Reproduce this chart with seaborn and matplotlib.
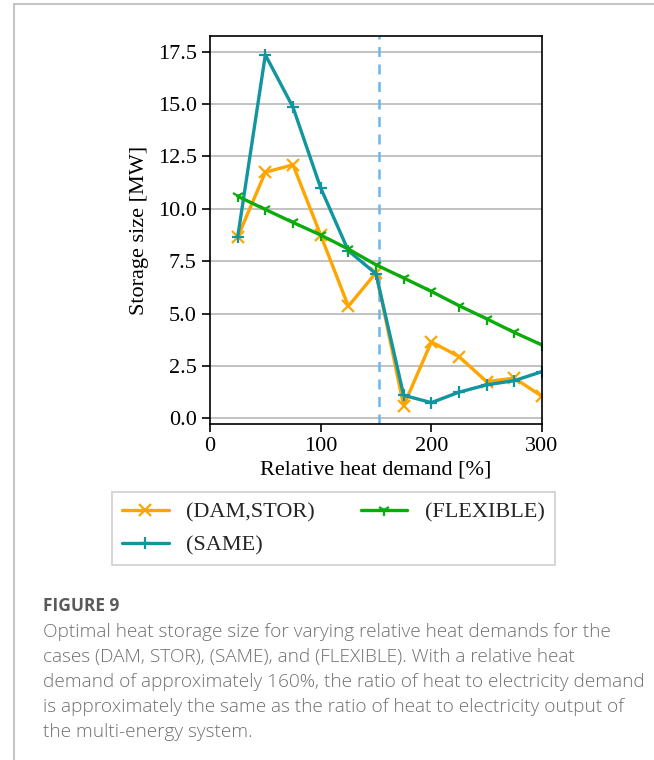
import matplotlib
matplotlib.use("Agg")
import matplotlib.pyplot as plt
import seaborn as sns
import pandas as pd
from matplotlib.lines import Line2D

# Relative heat demand [%]
demand = [25, 50, 75, 100, 125, 150, 175, 200, 225, 250, 275, 300]

# Optimal storage size [MW] per case
dam_stor = [8.65, 11.75, 12.1, 8.75, 5.35, 6.95, 0.6, 3.65, 2.95, 1.75, 1.92, 1.05]
same = [8.65, 17.35, 14.85, 11.0, 8.0, 6.9, 1.1, 0.75, 1.25, 1.6, 1.8, 2.23]
flexible = [10.6, 9.97, 9.35, 8.75, 8.08, 7.33, 6.7, 6.06, 5.38, 4.75, 4.1, 3.5]

cases = ["(DAM,STOR)", "(SAME)", "(FLEXIBLE)"]
colors = ["#ffa500", "#11959f", "#0aab0a"]
markers = ["x", "+", "1"]

balance_demand = 153

caption_title = "FIGURE 9"
caption_lines = [
    "Optimal heat storage size for varying relative heat demands for the",
    "cases (DAM, STOR), (SAME), and (FLEXIBLE). With a relative heat",
    "demand of approximately 160%, the ratio of heat to electricity demand",
    "is approximately the same as the ratio of heat to electricity output of",
    "the multi-energy system.",
]

df = pd.DataFrame({
    "demand": demand * 3,
    "size": dam_stor + same + flexible,
    "case": [cases[0]] * len(demand) + [cases[1]] * len(demand) + [cases[2]] * len(demand),
})

sns.set_theme(style="white")
plt.rcParams["font.family"] = ["Liberation Serif", "DejaVu Serif"]

W, H = 654, 760
fig = plt.figure(figsize=(W / 100, H / 100), dpi=100)
ax = fig.add_axes([210 / W, 1 - 424 / H, (542 - 210) / W, (424 - 36) / H])

for case, color, marker in zip(cases, colors, markers):
    sub = df[df["case"] == case]
    sns.lineplot(data=sub, x="demand", y="size", ax=ax, color=color,
                 linewidth=2.4, marker=marker, markersize=9,
                 markeredgewidth=1.6, markeredgecolor=color, legend=False)

ax.axvline(balance_demand, color="#6cb6ea", linestyle=(0, (4, 3)), linewidth=1.8, zorder=1)

ax.set_xlim(0, 300)
ax.set_ylim(-0.27, 18.25)
ax.set_xticks([0, 100, 200, 300])
ax.set_yticks([0, 2.5, 5, 7.5, 10, 12.5, 15, 17.5])
ax.yaxis.set_major_formatter(matplotlib.ticker.FormatStrFormatter("%.1f"))
ax.yaxis.grid(True, color="#b8b8b8", linewidth=1.2)
ax.set_axisbelow(True)
for s in ax.spines.values():
    s.set_color("black")
    s.set_linewidth(1.2)
ax.tick_params(axis="both", which="both", direction="out", length=6, width=1.2,
               labelsize=16, color="black", labelcolor="black", left=True, bottom=True)
ax.set_xlabel("Relative heat demand [%]", fontsize=16, color="black", labelpad=3)
ax.set_ylabel("Storage size [MW]", fontsize=16, color="black", labelpad=6)

handles = [Line2D([], [], color=c, marker=m, linewidth=2.4, markersize=9,
                  markeredgewidth=1.6) for c, m in zip(colors, markers)]
leg = fig.legend(handles, cases, ncol=2, loc="upper left",
                 bbox_to_anchor=(112 / W, 1 - 563 / H, (555 - 112) / W, (563 - 492) / H),
                 mode="expand", fontsize=16, frameon=True, fancybox=False,
                 framealpha=1, edgecolor="#d0d0d0", borderpad=0.45, handlelength=2.1,
                 handletextpad=0.8, borderaxespad=0.0,
                 columnspacing=2.0, labelspacing=0.55)
leg.get_frame().set_linewidth(1.2)

# Panel border around the figure and its caption
fig.add_artist(Line2D([14 / W, 14 / W], [0, 1 - 4 / H], color="#c4c4c4", linewidth=1.5))
fig.add_artist(Line2D([14 / W, 1], [1 - 4 / H, 1 - 4 / H], color="#c4c4c4", linewidth=1.5))

fig.text(43 / W, 1 - 606 / H, caption_title, family="Open Sans", fontsize=12.5,
         color="#5a5a5a", weight="bold", va="center")
for i, line in enumerate(caption_lines):
    fig.text(43 / W, 1 - (632 + 25 * i) / H, line, family="Open Sans", fontsize=13.7,
             color="#707070", weight="light", va="center")

fig.savefig("out.png", dpi=100)
